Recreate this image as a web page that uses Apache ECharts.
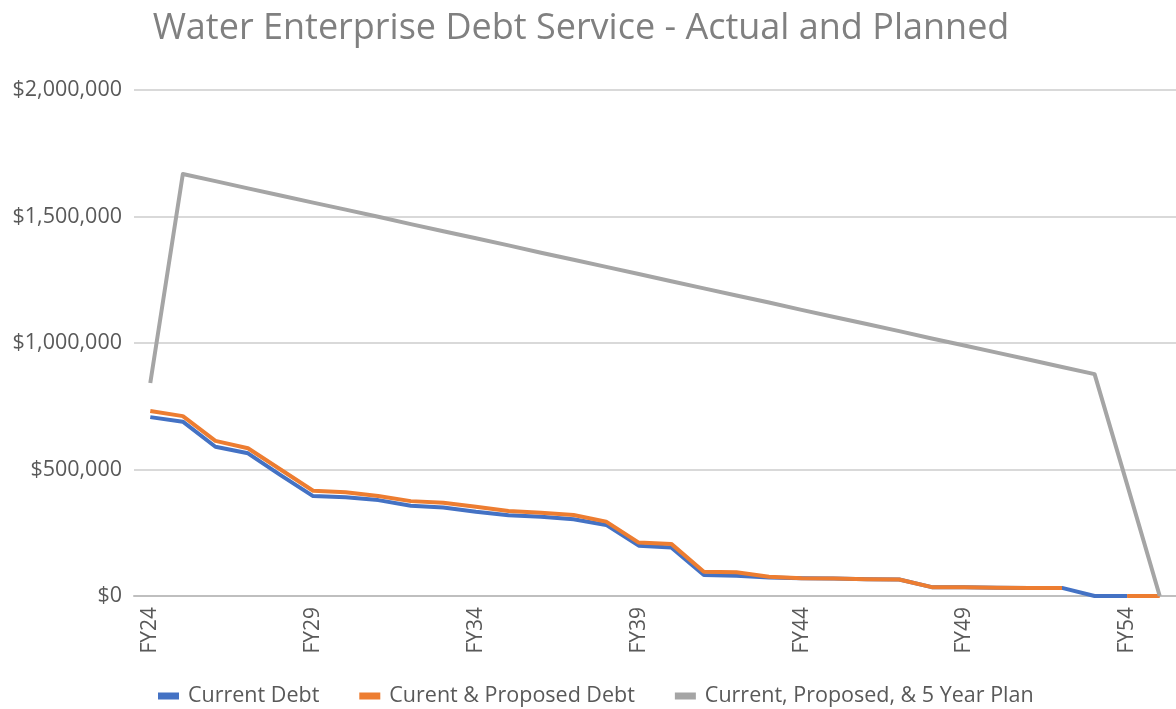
<!DOCTYPE html>
<html>
<head>
<meta charset="utf-8">
<script src="https://cdn.jsdelivr.net/npm/echarts@6/dist/echarts.min.js"></script>
<style>
html,body{margin:0;padding:0;background:#fff;}
#chart{width:1176px;height:709px;}
</style>
</head>
<body>
<div id="chart"></div>
<script>
const categories = ['FY24','FY25','FY26','FY27','FY28','FY29','FY30','FY31','FY32','FY33','FY34','FY35','FY36','FY37','FY38','FY39','FY40','FY41','FY42','FY43','FY44','FY45','FY46','FY47','FY48','FY49','FY50','FY51','FY52','FY53','FY54','FY55'];
const currentDebt = [707000,689000,590000,564000,478000,395000,390000,379000,357000,350000,333000,319000,313000,303000,281000,199000,192000,83000,80000,73000,70000,69000,66000,65000,35000,35000,33000,32000,32000,0,0,null];
const currentProposedDebt = [731000,711000,613000,584000,500000,416000,410000,395000,375000,369000,353000,336000,329000,320000,294000,211000,206000,96000,94000,76000,70000,69000,66000,65000,35000,35000,33000,32000,32000,null,0,0];
const fiveYearPlan = [842000,1668000,1640000,1611000,1583000,1555000,1527000,1499000,1470000,1442000,1414000,1386000,1357000,1329000,1301000,1273000,1244000,1216000,1188000,1160000,1131000,1103000,1075000,1047000,1018000,990000,962000,934000,905000,877000,440000,0];
const seriesNames = ['Current Debt','Curent & Proposed Debt','Current, Proposed, & 5 Year Plan'];
const yTicks = {min:0, max:2000000, interval:500000};

const chart = echarts.init(document.getElementById('chart'));
const font = '"Open Sans", sans-serif';
function mk(name, data, color){
  return {name, type:'line', data, symbol:'none', connectNulls:false,
    lineStyle:{color, width:4, join:'round'}, itemStyle:{color}, animation:false};
}
chart.setOption({
  animation:false,
  title:{text:'Water Enterprise Debt Service - Actual and Planned', left:576, textAlign:'center', top:6,
    textStyle:{fontFamily:font, fontSize:36, fontWeight:'normal', color:'#808080'}},
  grid:{left:134, top:90, width:1045, height:506, containLabel:false},
  legend:{top:680, left:153, itemGap:40, itemWidth:21, itemHeight:7, icon:'rect',
    textStyle:{fontFamily:font, fontSize:21.5, color:'#595959', padding:[0,0,0,4]}},
  xAxis:{type:'category', data:categories, boundaryGap:true,
    axisLine:{lineStyle:{color:'#bfbfbf', width:2}},
    axisTick:{show:false},
    axisLabel:{rotate:90, interval:4, fontFamily:font, fontSize:21, color:'#595959', margin:11}},
  yAxis:{type:'value', min:yTicks.min, max:yTicks.max, interval:yTicks.interval,
    axisLine:{show:false}, axisTick:{show:false},
    splitLine:{lineStyle:{color:'#d9d9d9', width:2}},
    axisLabel:{fontFamily:font, fontSize:21.5, color:'#595959', margin:12,
      formatter:v=>'$'+v.toLocaleString('en-US')}},
  series:[
    mk(seriesNames[0], currentDebt, '#4472C4'),
    mk(seriesNames[1], currentProposedDebt, '#ED7D31'),
    mk(seriesNames[2], fiveYearPlan, '#A5A5A5')
  ]
});
</script>
</body>
</html>
